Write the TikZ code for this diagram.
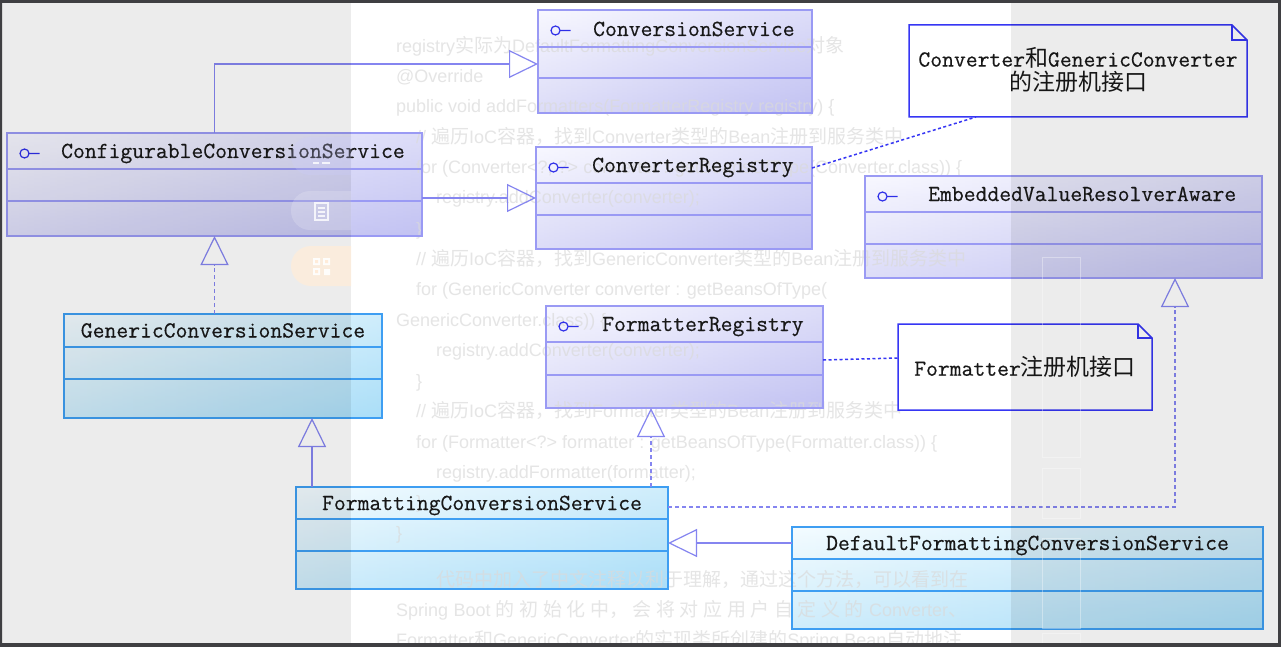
\documentclass[tikz,border=0pt]{standalone}
\usepackage{fontspec}
\setmonofont{Latin Modern Mono}
\newfontfamily\umlfont{Latin Modern Mono}[FakeBold=0.4]
\newfontfamily\cjk{Noto Sans CJK SC}
\newfontfamily\codefont{Liberation Sans}
\usetikzlibrary{arrows.meta}

\pgfdeclarelayer{boxlayer}
\pgfdeclarelayer{codelayer}
\pgfdeclarelayer{toplayer}
\pgfsetlayers{boxlayer,codelayer,main,toplayer}

% CJK pieces inside the faint code listing and inside labels
\newcommand\zh[1]{{\cjk\fontsize{19}{22}\selectfont #1}}
\newcommand\zhn[1]{{\cjk #1}}

\definecolor{pbord}{HTML}{9A9AF4}
\definecolor{plite}{HTML}{F8F8FF}
\definecolor{pdark}{HTML}{C2C2F2}
\definecolor{bbord}{HTML}{3E9EF2}
\definecolor{blite}{HTML}{F4FCFF}
\definecolor{bdark}{HTML}{AADEF8}
\definecolor{conn}{HTML}{8585F0}
\definecolor{notec}{HTML}{3636F4}
\definecolor{iconc}{HTML}{2E2EE8}
\definecolor{ink}{HTML}{181818}
\definecolor{codec}{HTML}{DADADA}
\definecolor{framec}{HTML}{3F3F42}

\tikzset{
  % horizontal gradient blended with a vertical one: light top-left, dark bottom-right
  ibox/.style={draw=pbord, line width=1.2pt, left color=plite, right color=pdark,
    postaction={draw=none, top color=plite, bottom color=pdark, fill opacity=0.5},
    inner sep=0pt, outer sep=0pt, anchor=north west},
  ibox line/.style={draw=pbord, line width=1.2pt},
  cbox/.style={draw=bbord, line width=1.2pt, left color=blite, right color=bdark,
    postaction={draw=none, top color=blite, bottom color=bdark, fill opacity=0.5},
    inner sep=0pt, outer sep=0pt, anchor=north west},
  cbox line/.style={draw=bbord, line width=1.2pt},
  title/.style={font=\umlfont\fontsize{23}{26}\selectfont, text=ink,
    inner sep=0pt, anchor=base west},
  ctitle/.style={title, anchor=base},
  code/.style={font=\codefont\fontsize{18}{22}\selectfont, text=codec,
    opacity=0.7, inner sep=0pt, anchor=base west},
  gen/.style={draw=conn, line width=1.2pt,
    -{Triangle[open, width=28pt, length=29pt]}},
  real/.style={gen, dash pattern=on 4pt off 3pt},
  notebox/.style={anchor=north west, inner sep=0pt, outer sep=0pt},
  notetext/.style={anchor=center, inner sep=0pt, align=center, text=ink,
    font=\umlfont\fontsize{23}{24}\selectfont},
  noteline/.style={draw=notec, fill=white, line width=1.5pt},
  notelink/.style={draw=notec, line width=1.5pt, dash pattern=on 3pt off 2.5pt},
}

% outline and two compartment separators below the header of a class box
\newcommand\compartments[4]{%
  \draw[#2] (#1.north west) rectangle (#1.south east)
            ([yshift=-#3pt]#1.north west) -- ([yshift=-#3pt]#1.north east)
            ([yshift=-#4pt]#1.north west) -- ([yshift=-#4pt]#1.north east);}
% lollipop marker of an interface
\newcommand\ifaceicon[1]{%
  \draw[iconc, line width=1.2pt] ([xshift=17.5pt, yshift=-20.5pt]#1.north west)
    circle[radius=4.5pt] ++(4.5,0) -- ++(10.5,0);}
% note outline with folded corner
\newcommand\noteframe[2]{%
  \filldraw[noteline] (#1.north west) -- ([xshift=-#2pt]#1.north east)
    -- ([yshift=-#2pt]#1.north east) -- (#1.south east) -- (#1.south west) -- cycle;
  \draw[draw=notec, line width=1.5pt] ([xshift=-#2pt]#1.north east)
    |- ([yshift=-#2pt]#1.north east);}

\begin{document}
\begin{tikzpicture}[x=1pt, y=-1pt]
\useasboundingbox (0,0) rectangle (1281,647);

% ---------- page and class / interface boxes ----------
\begin{pgfonlayer}{boxlayer}
\fill[white] (0,0) rectangle (1281,647);
\node[ibox, minimum width=274pt, minimum height=103pt] (cs)   at (538,10)  {};
\node[ibox, minimum width=276pt, minimum height=102pt] (cr)   at (536,147) {};
\node[ibox, minimum width=415pt, minimum height=103pt] (ccs)  at (7,133)   {};
\node[cbox, minimum width=318pt, minimum height=104pt] (gcs)  at (64,314)  {};
\node[ibox, minimum width=277pt, minimum height=102pt] (fr)   at (546,306) {};
\node[ibox, minimum width=397pt, minimum height=102pt] (evra) at (865,176) {};
\node[cbox, minimum width=372pt, minimum height=102pt] (fcs)  at (296,487) {};
\node[cbox, minimum width=471pt, minimum height=102pt] (dfcs) at (792,527) {};
\end{pgfonlayer}

% ---------- faint code listing behind the diagram ----------
\begin{pgfonlayer}{codelayer}
\node[code] (c01) at (396,53)  {registry\zh{实际为}DefaultFormattingConversionService\zh{对象}};
\node[code] (c02) at (396,83)  {@Override};
\node[code] (c03) at (396,113) {public void addFormatters(FormatterRegistry registry) \{};
\node[code] (c04) at (416,144) {// \zh{遍历}IoC\zh{容器，找到}Converter\zh{类型的}Bean\zh{注册到服务类中}};
\node[code] (c05) at (416,174) {for (Converter<?, ?> converter : getBeansOfType(Converter.class)) \{};
\node[code] (c06) at (436,204) {registry.addConverter(converter);};
\node[code] (c07) at (416,235) {\}};
\node[code] (c08) at (416,265) {// \zh{遍历}IoC\zh{容器，找到}GenericConverter\zh{类型的}Bean\zh{注册到服务类中}};
\node[code] (c09) at (416,295) {for (GenericConverter converter : getBeansOfType(};
\node[code] (c10) at (396,326) {GenericConverter.class)) \{};
\node[code] (c11) at (436,356) {registry.addConverter(converter);};
\node[code] (c12) at (416,387) {\}};
\node[code] (c13) at (416,417) {// \zh{遍历}IoC\zh{容器，找到}Formatter\zh{类型的}Bean\zh{注册到服务类中}};
\node[code] (c14) at (416,448) {for (Formatter<?> formatter : getBeansOfType(Formatter.class)) \{};
\node[code] (c15) at (436,478) {registry.addFormatter(formatter);};
\node[code] (c16) at (416,508) {\}};
\node[code] (c17) at (396,539) {\}};
\node[code] (c18) at (436,586) {\zh{代码中加入了中文注释以利于理解，通过这个方法，可以看到在}};
\node[code] (c19) at (396,616) {\makebox[571pt][s]{Spring Boot \zh{的 初 始 化 中， 会 将 对 应 用 户 自 定 义 的} Converter\zh{、}}};
\node[code] (c20) at (396,646) {Formatter\zh{和}GenericConverter\zh{的实现类所创建的}Spring Bean\zh{自动地注}};
\end{pgfonlayer}

% ---------- compartments, markers and names ----------
\compartments{cs}{ibox line}{37}{68}
\compartments{cr}{ibox line}{36}{68}
\compartments{ccs}{ibox line}{36}{68}
\compartments{gcs}{cbox line}{33}{65}
\compartments{fr}{ibox line}{36}{69}
\compartments{evra}{ibox line}{36}{68}
\compartments{fcs}{cbox line}{32}{64}
\compartments{dfcs}{cbox line}{32}{64}

\ifaceicon{cs}
\ifaceicon{cr}
\ifaceicon{ccs}
\ifaceicon{fr}
\ifaceicon{evra}

\node[title]  (cs-t)   at (593,36)    {ConversionService};
\node[title]  (cr-t)   at (592,172)   {ConverterRegistry};
\node[title]  (ccs-t)  at (61,158)    {ConfigurableConversionService};
\node[ctitle] (gcs-t)  at (223,337.5) {GenericConversionService};
\node[title]  (fr-t)   at (602,331)   {FormatterRegistry};
\node[title]  (evra-t) at (928,201)   {EmbeddedValueResolverAware};
\node[ctitle] (fcs-t)  at (482,510)   {FormattingConversionService};
\node[ctitle] (dfcs-t) at (1027.5,550) {DefaultFormattingConversionService};

% ---------- notes ----------
\node[notebox, minimum width=338pt, minimum height=92pt] (n1) at (909,25) {};
\noteframe{n1}{15}
\node[notetext] (n1-t) at ([yshift=1pt]n1.center)
  {Converter\zhn{和}GenericConverter\\\zhn{的注册机接口}};
\node[notebox, minimum width=254pt, minimum height=86pt] (n2) at (898,324) {};
\noteframe{n2}{14}
\node[notetext] (n2-t) at (n2.center) {Formatter\zhn{注册机接口}};

% ---------- relations ----------
\draw[gen]  (ccs.north) |- ([yshift=-54pt]cs.north west);
\draw[gen]  (cr.west -| ccs.east) -- (cr.west);
\draw[real] (gcs.north -| ccs.south) -- (ccs.south);
\draw[gen]  ([xshift=16pt]fcs.north west) -- ([xshift=16pt]fcs.north west |- gcs.south);
\draw[real] ([xshift=-17pt]fcs.north east) -- ([xshift=-17pt]fcs.north east |- fr.south);
\draw[real] ([yshift=-20pt]fcs.north east) -| ([xshift=-87pt]evra.south east);
\draw[gen]  ([yshift=-16pt]dfcs.north west) -- ([yshift=-16pt]dfcs.north west -| fcs.east);
\draw[notelink] ([yshift=-21pt]cr.north east) -- ([xshift=67pt]n1.south west);
\draw[notelink] ([yshift=-54pt]fr.north east) -- ([yshift=-34pt]n2.north west);

% ---------- side panels, buttons and window frame ----------
\begin{pgfonlayer}{toplayer}
\fill[black, opacity=0.075] (2,3) rectangle (351,643);
\fill[black, opacity=0.075] (1011,3) rectangle (1278,643);
\begin{scope}
  \clip (280,0) rectangle (351,647);
  \fill[blue!20, opacity=0.25, rounded corners=19pt] (291,137) rectangle (420,175);
  \fill[white, opacity=0.18, rounded corners=19pt] (291,191) rectangle (420,230);
  \fill[orange!15, opacity=0.75, rounded corners=20pt] (291,246) rectangle (420,286);
\end{scope}
\draw[white, line width=1.5pt, opacity=0.8] (313,163) -- (319,163) (322,163) -- (330,163);
\draw[white, line width=1.3pt, opacity=0.8] (315,203) rectangle (328,220)
  (318,208) -- (325,208) (318,212) -- (325,212) (318,216) -- (325,216);
\fill[white, opacity=0.9] (313,258) rectangle (320,265) (323,258) rectangle (330,265)
  (313,268) rectangle (320,275) (324,269) rectangle (330,275);
\fill[orange!15] (315,260) rectangle (318,263) (325,260) rectangle (328,263)
  (315,270) rectangle (318,273);
\draw[white, line width=0.8pt, opacity=0.35]
  (1042,257) rectangle (1080,457) (1042,468) rectangle (1080,518)
  (1042,538) rectangle (1080,628) (1042,633) rectangle (1080,650);
\fill[framec, even odd rule] (0,0) rectangle (1281,647) (2,3) rectangle (1278,643);
\end{pgfonlayer}
\end{tikzpicture}
\end{document}
